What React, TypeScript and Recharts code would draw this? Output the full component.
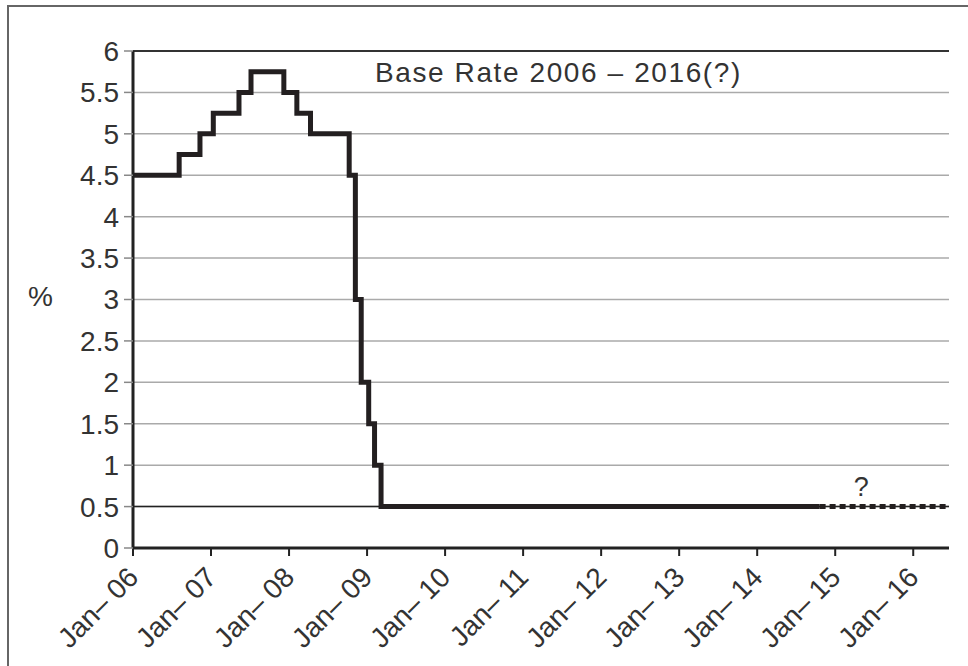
import React from "react"
import { LineChart, Line, XAxis, YAxis, CartesianGrid, ReferenceLine, ReferenceDot } from "recharts"

// months since Jan 2006
const actualMonths = [0, 7.1, 10.3, 12.35, 16.3, 18.15, 23.2, 25.2, 27.3, 33.25, 34.2, 35.1, 36.25, 37.15, 38.15, 105.6]
const actualRates = [4.5, 4.75, 5.0, 5.25, 5.5, 5.75, 5.5, 5.25, 5.0, 4.5, 3.0, 2.0, 1.5, 1.0, 0.5, 0.5]
const forecastMonths = [105.6, 125.5]
const forecastRates = [0.5, 0.5]

const xTicks = [0, 12, 24, 36, 48, 60, 72, 84, 96, 108, 120]
const xLabels = ["Jan– 06", "Jan– 07", "Jan– 08", "Jan– 09", "Jan– 10", "Jan– 11", "Jan– 12", "Jan– 13", "Jan– 14", "Jan– 15", "Jan– 16"]
const yTicks = [0, 0.5, 1, 1.5, 2, 2.5, 3, 3.5, 4, 4.5, 5, 5.5, 6]

const actual = actualMonths.map((m, i) => ({ m, rate: actualRates[i] }))
const forecast = forecastMonths.map((m, i) => ({ m, rate: forecastRates[i] }))

const font = "'Liberation Sans', Arial, sans-serif"

const XTick = (props: any) => {
    const { x, y, payload } = props
    const idx = xTicks.indexOf(payload.value)
    const ax = x + 7
    const ay = y + 21
    return (
        <text x={ax} y={ay} transform={`rotate(-45 ${ax} ${ay})`} textAnchor="end"
            fontSize={28} fill="#333" fontFamily={font}>
            {xLabels[idx]}
        </text>
    )
}

export default function App() {
    return (
        <div style={{ position: "absolute", left: 0, top: 0, width: 968, height: 666, background: "#fff", overflow: "hidden" }}>
            <div style={{ position: "absolute", left: 7, top: 5, width: 980, height: 700, borderTop: "2px solid #666", borderLeft: "2px solid #666" }} />
            <div style={{ position: "absolute", left: 28, top: 281, fontSize: 28, color: "#333", fontFamily: font }}>%</div>
            <div style={{ position: "absolute", left: 375, top: 57, fontSize: 28, letterSpacing: 1.6, color: "#333", fontFamily: font, whiteSpace: "nowrap" }}>
                Base Rate 2006 – 2016(?)
            </div>
            <LineChart width={968} height={666} margin={{ top: 51, right: 19, left: 0, bottom: 0 }} style={{ position: "absolute", left: 0, top: 0 }}>
                <CartesianGrid vertical={false} stroke="#aaa" strokeWidth={1.5} />
                <XAxis type="number" dataKey="m" domain={[0, 125.5]} ticks={xTicks} height={118}
                    axisLine={{ stroke: "#222", strokeWidth: 3 }} tickLine={{ stroke: "#222", strokeWidth: 2 }} tickSize={8}
                    tick={<XTick />} interval={0} allowDataOverflow />
                <YAxis type="number" domain={[0, 6]} ticks={yTicks} width={133}
                    axisLine={{ stroke: "#222", strokeWidth: 3 }} tickLine={{ stroke: "#888", strokeWidth: 1.5 }} tickSize={9}
                    tick={{ fontSize: 28, fill: "#333", fontFamily: font }} tickMargin={5} interval={0} />
                <ReferenceLine y={0.5} stroke="#222" strokeWidth={1.5} />
                <ReferenceLine y={6} stroke="#333" strokeWidth={2} />
                <Line data={actual} dataKey="rate" type="stepAfter" stroke="#231f20" strokeWidth={5} dot={false} isAnimationActive={false} />
                <Line data={forecast} dataKey="rate" type="stepAfter" stroke="#231f20" strokeWidth={5} strokeDasharray="6 4" dot={false} isAnimationActive={false} />
                <ReferenceDot x={112} y={0.5} r={0} fill="none" stroke="none"
                    label={{ value: "?", position: "top", offset: 11, fontSize: 27, fill: "#333", fontFamily: font }} />
            </LineChart>
        </div>
    )
}
